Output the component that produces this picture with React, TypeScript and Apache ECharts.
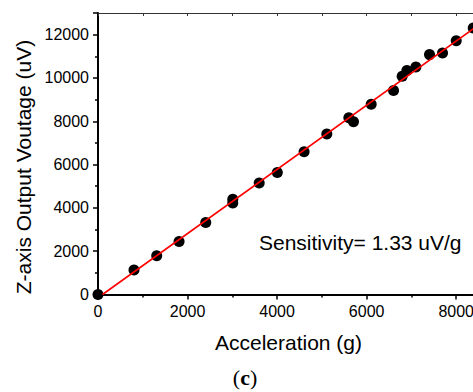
import React, { useEffect, useRef } from "react";
import * as echarts from "echarts";

const accel = [0, 804, 1311, 1810, 2406, 3010, 3010, 3600, 4005, 4603, 5110, 5602, 5706, 6101, 6600, 6793, 6898, 7099, 7404, 7694, 8000, 8380];
const voltage = [0, 1128, 1787, 2450, 3325, 4400, 4230, 5150, 5635, 6590, 7407, 8162, 7978, 8790, 9420, 10080, 10341, 10511, 11078, 11156, 11723, 12308];
const fitX = [100, 8870];
const fitY = [0, 13000];
const xTitle = "Acceleration (g)";
const yTitle = "Z-axis Output Voutage (uV)";
const note = "Sensitivity= 1.33 uV/g";

export default function App() {
  const ref = useRef<HTMLDivElement>(null);
  useEffect(() => {
    if (!ref.current) return;
    const chart = echarts.init(ref.current, undefined, { renderer: "svg" });
    const font = "'Liberation Sans', Arial, sans-serif";
    const serif = "'Liberation Serif', 'Times New Roman', serif";
    const fmt = (v: number) => String(v);
    chart.setOption({
      animation: false,
      backgroundColor: "#fff",
      grid: { left: 98, right: 0, top: 13, bottom: 97.5 },
      xAxis: [
        {
          type: "value",
          min: 0,
          max: 9000,
          interval: 2000,
          position: "bottom",
          axisLine: { show: true, onZero: false, lineStyle: { color: "#000", width: 2 } },
          axisTick: { show: true, inside: false, length: 5, lineStyle: { color: "#000", width: 1.5 } },
          minorTick: { show: true, splitNumber: 2, length: 3, lineStyle: { color: "#000", width: 1.5 } },
          axisLabel: { color: "#000", fontSize: 16, fontFamily: font, margin: 9, showMaxLabel: false, formatter: fmt },
          splitLine: { show: false },
        },
        {
          type: "value",
          min: 0,
          max: 9000,
          interval: 1000,
          position: "top",
          axisLine: { show: true, onZero: false, lineStyle: { color: "#333", width: 1 } },
          axisTick: { show: true, inside: true, length: 3, lineStyle: { color: "#333", width: 1 } },
          axisLabel: { show: false },
          splitLine: { show: false },
        },
      ],
      yAxis: {
        type: "value",
        min: 0,
        max: 13000,
        interval: 2000,
        axisLine: { show: true, onZero: false, lineStyle: { color: "#000", width: 2 } },
        axisTick: { show: true, inside: false, length: 5, lineStyle: { color: "#000", width: 1.5 } },
        minorTick: { show: true, splitNumber: 2, length: 3, lineStyle: { color: "#000", width: 1.5 } },
        axisLabel: { color: "#000", fontSize: 16, fontFamily: font, margin: 9, showMaxLabel: false, formatter: fmt },
        splitLine: { show: false },
      },
      series: [
        {
          type: "scatter",
          data: accel.map((x, i) => [x, voltage[i]]),
          symbol: "circle",
          symbolSize: 11,
          itemStyle: { color: "#000", opacity: 1 },
          clip: true,
          z: 2,
        },
        {
          type: "line",
          data: fitX.map((x, i) => [x, fitY[i]]),
          symbol: "none",
          lineStyle: { color: "#ff0000", width: 1.6 },
          clip: true,
          z: 3,
        },
      ],
      graphic: [
        {
          type: "text",
          x: 288.5,
          y: 342,
          style: { text: xTitle, font: `21px ${font}`, fill: "#000", textAlign: "center", textVerticalAlign: "middle" },
        },
        {
          type: "text",
          x: 23,
          y: 167,
          rotation: Math.PI / 2,
          style: { text: yTitle, font: `21px ${font}`, fill: "#000", textAlign: "center", textVerticalAlign: "middle" },
        },
        {
          type: "text",
          x: 259,
          y: 242,
          style: { text: note, font: `21px ${font}`, fill: "#000", textAlign: "left", textVerticalAlign: "middle" },
        },
        {
          type: "text",
          x: 245,
          y: 377,
          style: {
            text: "({c|c})",
            font: `22px ${serif}`,
            fill: "#000",
            textAlign: "center",
            textVerticalAlign: "middle",
            rich: { c: { fontFamily: serif, fontSize: 22, fontWeight: "bold", fill: "#000" } },
          },
        },
      ],
    });
    return () => chart.dispose();
  }, []);
  return (
    <div style={{ position: "fixed", left: 0, top: 0, width: 473, height: 392, overflow: "hidden", background: "#fff" }}>
      <div ref={ref} style={{ width: 501, height: 392 }} />
    </div>
  );
}
